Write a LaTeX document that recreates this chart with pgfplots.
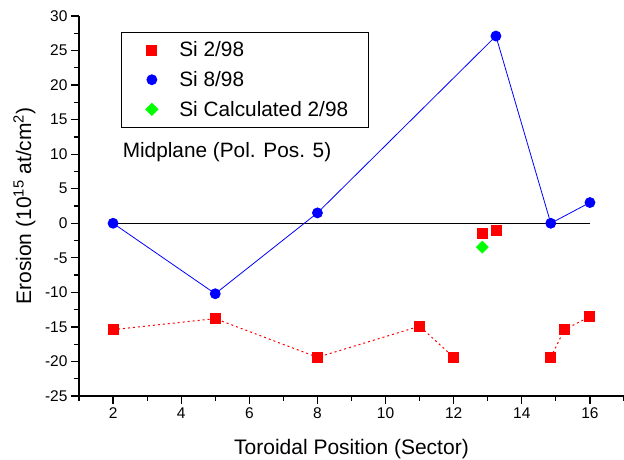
\documentclass[border=0pt]{standalone}
\usepackage{fontspec}
\setmainfont{Liberation Sans}
\usepackage{pgfplots}
\pgfplotsset{compat=1.18}
\begin{document}
\begin{tikzpicture}
\begin{axis}[
  scale only axis, width=545pt, height=380pt,
  xmin=1, xmax=17, ymin=-25, ymax=30,
  axis lines*=left,
  axis line style={line width=1.2pt},
  xtick={2,4,...,16}, minor xtick={1,3,...,17},
  ytick={-25,-20,...,30}, minor ytick={-22.5,-17.5,...,27.5},
  tick align=outside,
  major tick length=8pt, minor tick length=5pt,
  every tick/.style={black, line width=1.2pt},
  tick label style={font=\fontsize{15.5}{18}\selectfont},
  /pgf/number format/assume math mode=true,
  xlabel={Toroidal Position (Sector)},
  ylabel={Erosion (10\textsuperscript{15} at/cm\textsuperscript{2})},
  label style={font=\fontsize{21}{25}\selectfont},
  xlabel style={at={(axis description cs:0.5,-0.153)}, anchor=base},
  ylabel style={at={(axis description cs:-0.088,0.5)}, anchor=base},
  legend style={at={(axis description cs:0.077,0.958)}, anchor=north west,
    draw=black, line width=0.8pt, font=\fontsize{20.8}{25}\selectfont,
    inner xsep=18pt, inner ysep=7.5pt, row sep=9pt},
  legend cell align=left,
  legend image code/.code={\path (0pt,0pt) (37pt,0pt);
    \draw[#1, only marks] plot coordinates {(12pt,0pt)};},
]
% zero line
\addplot[black, line width=1pt, forget plot] coordinates {(2,0) (16,0)};

\addplot[red, line width=1pt, dash pattern=on 2pt off 3pt, mark=square*,
  mark size=5pt, mark options={solid}, unbounded coords=jump]
  coordinates {(2,-15.4) (5,-13.8) (8,-19.4) (11,-14.9) (12,-19.4) (13,nan)
    (14.85,-19.4) (15.25,-15.4) (16,-13.5)};
\addlegendentry{Si 2/98}
\addplot[red, only marks, mark=square*, mark size=5pt, forget plot]
  coordinates {(12.84,-1.5) (13.24,-1.0)};

\addplot[blue, line width=0.8pt, mark=*, mark size=5pt]
  coordinates {(2,0) (5,-10.2) (8,1.5) (13.24,27.1) (14.85,0) (16,3)};
\addlegendentry{Si 8/98}

\addplot[green, only marks, mark=square*, mark size=4.3pt, mark options={rotate=45}]
  coordinates {(12.84,-3.45)};
\addlegendentry{Si Calculated 2/98}

\node[anchor=base west, inner sep=0pt, font=\fontsize{20.8}{25}\selectfont]
  at (axis cs:2.28,9.45) {Midplane (Pol. Pos. 5)};
\end{axis}
\pgfresetboundingbox
\path ([xshift=-79pt,yshift=-64pt]current axis.south west) rectangle ([yshift=16pt]current axis.north east);
\end{tikzpicture}
\end{document}
